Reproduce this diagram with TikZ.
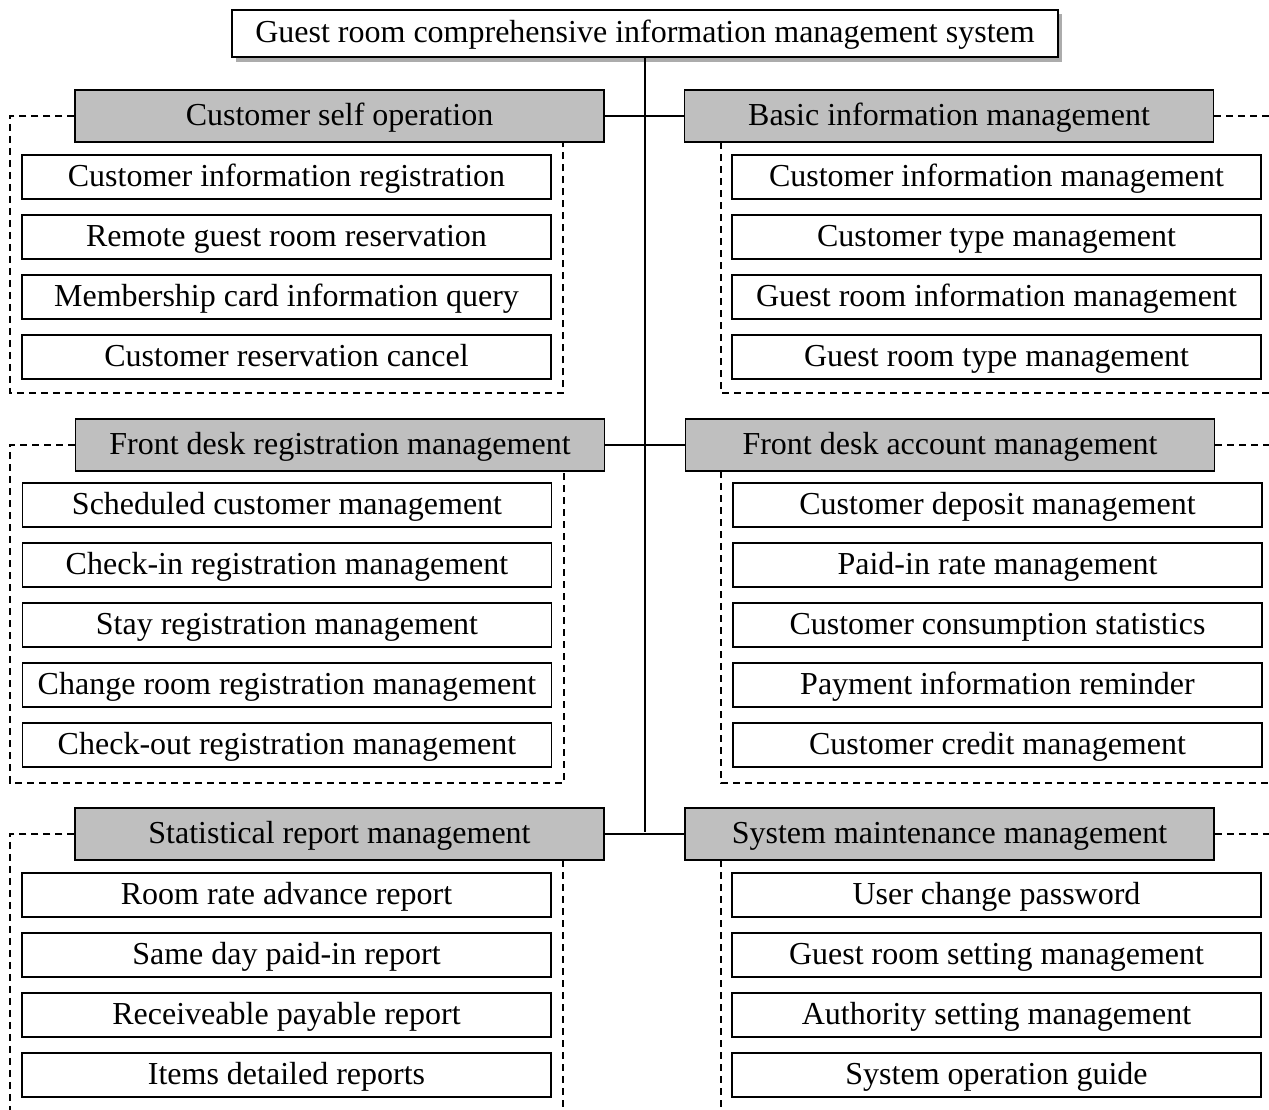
\documentclass[tikz,border=0pt]{standalone}
\usepackage{fontspec}
\setmainfont{Liberation Serif}
\begin{document}
\begin{tikzpicture}[x=1pt,y=-1pt,
  every node/.style={font=\fontsize{32}{36}\selectfont, inner sep=0pt, text height=23pt, text depth=5pt},
  topbox/.style={draw, line width=1.5pt, fill=white, minimum width=826pt, minimum height=47pt},
  headbox/.style={draw, line width=1.5pt, fill=gray!50, minimum width=529pt, minimum height=52pt},
  itembox/.style={draw, line width=1.5pt, fill=white, minimum width=529pt, minimum height=44pt},
  dashbox/.style={line width=1.2pt, dash pattern=on 7pt off 5pt},
  link/.style={line width=2pt}]
\useasboundingbox (0,0) rectangle (1269,1109);
\clip (0,0) rectangle (1269,1109);
% top
\fill[gray!65] (236,14) rectangle (1062,62);
\node[topbox] (top) at (645,33.5) {Guest room comprehensive information management system};
% trunk
\coordinate (j3) at (645,832);
\draw[link] (top.south -| j3) -- (j3);
% headers
\node[headbox] (L1) at (339.5,116) {Customer self operation};
\node[headbox] (R1) at (949,116) {Basic information management};
\node[headbox] (L2) at (340,445) {Front desk registration management};
\node[headbox] (R2) at (950,445) {Front desk account management};
\node[headbox] (L3) at (339.5,834) {Statistical report management};
\node[headbox] (R3) at (949.5,834) {System maintenance management};
\draw[link] (L1.east) -- (R1.west);
\draw[link] (L2.east) -- (R2.west);
\draw[link] (L3.east) -- (R3.west);
% items
\foreach \t [count=\i] in {Customer information registration, Remote guest room reservation, Membership card information query, Customer reservation cancel}
  \node[itembox] (L1-\i) at (286.5,{177+60*(\i-1)}) {\t};
\foreach \t [count=\i] in {Customer information management, Customer type management, Guest room information management, Guest room type management}
  \node[itembox] (R1-\i) at (996.5,{177+60*(\i-1)}) {\t};
\foreach \t [count=\i] in {Scheduled customer management, Check-in registration management, Stay registration management, Change room registration management, Check-out registration management}
  \node[itembox] (L2-\i) at (287,{505+60*(\i-1)}) {\t};
\foreach \t [count=\i] in {Customer deposit management, Paid-in rate management, Customer consumption statistics, Payment information reminder, Customer credit management}
  \node[itembox] (R2-\i) at (997.5,{505+60*(\i-1)}) {\t};
\foreach \t [count=\i] in {Room rate advance report, Same day paid-in report, Receiveable payable report, Items detailed reports}
  \node[itembox] (L3-\i) at (286.5,{895+60*(\i-1)}) {\t};
\foreach \t [count=\i] in {User change password, Guest room setting management, Authority setting management, System operation guide}
  \node[itembox] (R3-\i) at (996.5,{895+60*(\i-1)}) {\t};
% dashed frames
\draw[dashbox] (L1.west) -- (10,116) -- (10,393) -- (563,393) -- (563,142);
\draw[dashbox] (R1.east) -- (1275,116);
\draw[dashbox] (721,142) -- (721,393) -- (1275,393);
\draw[dashbox] (L2.west) -- (10,445) -- (10,783) -- (564,783) -- (564,471);
\draw[dashbox] (R2.east) -- (1275,445);
\draw[dashbox] (721,471) -- (721,783) -- (1275,783);
\draw[dashbox] (L3.west) -- (10,834) -- (10,1115);
\draw[dashbox] (563,860) -- (563,1115);
\draw[dashbox] (R3.east) -- (1275,834);
\draw[dashbox] (721,860) -- (721,1115);
\end{tikzpicture}
\end{document}
